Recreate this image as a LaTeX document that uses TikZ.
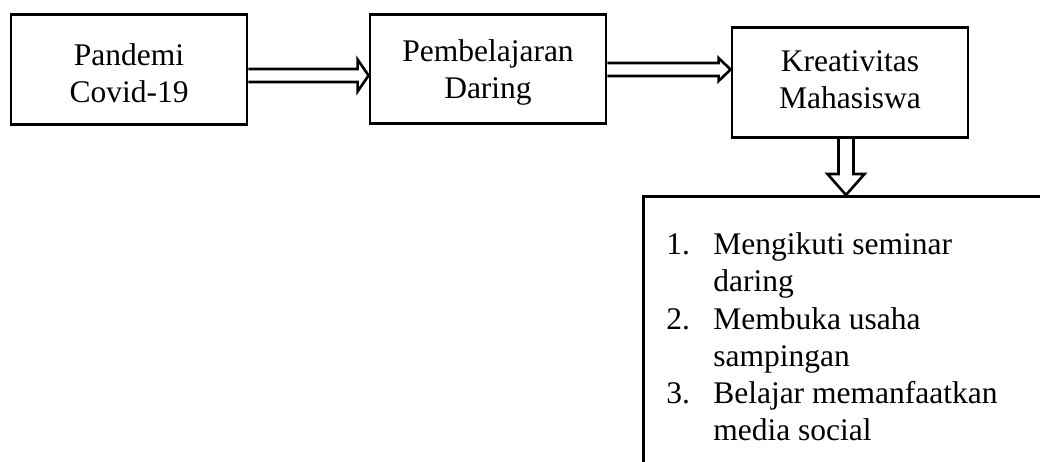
\documentclass[tikz,border=0pt]{standalone}
\usepackage{fontspec}
\setmainfont{Liberation Serif}
\usetikzlibrary{calc}

% two centred lines, with a strut of height #1 and depth #2 on each
\newcommand{\twoline}[4]{\rule[-#2]{0pt}{#1}#3\\\rule[-#2]{0pt}{#1}#4}

\tikzset{
  box/.style={draw, line width=1pt, minimum width=90pt, minimum height=41.7pt,
    align=center, inner sep=0pt, font=\fontsize{12}{14.1}\selectfont},
  hollow right/.style n args={3}{to path={
    ($(\tikztostart)+(0,-#1)$) -- ($(\tikztotarget)+(-#3,-#1)$)
    -- ($(\tikztotarget)+(-#3,-#2)$) -- (\tikztotarget)
    -- ($(\tikztotarget)+(-#3,#2)$) -- ($(\tikztotarget)+(-#3,#1)$)
    -- ($(\tikztostart)+(0,#1)$)}},
  hollow down/.style n args={3}{to path={
    ($(\tikztostart)+(-#1,0)$) -- ($(\tikztotarget)+(-#1,-#3)$)
    -- ($(\tikztotarget)+(-#2,-#3)$) -- (\tikztotarget)
    -- ($(\tikztotarget)+(#2,-#3)$) -- ($(\tikztotarget)+(#1,-#3)$)
    -- ($(\tikztostart)+(#1,0)$)}}
}

\begin{document}
\begin{tikzpicture}[x=0.381pt, y=-0.381pt, line width=1pt]
    \useasboundingbox (0,0) rectangle (1040,462);
    \clip (0,0) rectangle (1040,462);

    % three boxes in a row
    \node[box] (covid) at (129,69.5) {\twoline{12.95pt}{0.76pt}{Pandemi}{Covid-19}};
    \node[box] (online) at (488,69) {\twoline{12.2pt}{1.14pt}{Pembelajaran}{Daring}};
    \node[box] (kreativ) at (850,82.5) {\twoline{11.4pt}{2.7pt}{Kreativitas}{Mahasiswa}};

    % list box, cut off at the page edge
    \node[draw, anchor=north west, inner sep=0pt, minimum width=180pt, minimum height=120pt] (ideas) at (642,195) {};
    \node[anchor=base west, inner sep=0pt, font=\fontsize{12}{14.1}\selectfont] (items) at (665,255) {%
      \begin{tabular}[t]{@{}p{17.9pt}@{}l@{}}
        1. & Mengikuti seminar\\
           & daring\\
        2. & Membuka usaha\\
           & sampingan\\
        3. & Belajar memanfaatkan\\
           & media social
      \end{tabular}};

    % hollow arrows
    \coordinate (a1s) at ($(covid.east)+(0,6)$);
    \coordinate (a1e) at ($(online.west)+(0,6.5)$);
    \coordinate (a2s) at ($(online.east)+(0,0.5)$);
    \coordinate (a2e) at ($(kreativ.west)+(0,-13)$);
    \coordinate (a3s) at ($(kreativ.south)+(-4,0)$);
    \coordinate (a3e) at ($(kreativ.south |- ideas.north)+(-4,0)$);
    \draw (a1s) to[hollow right={6.5}{16}{11}] (a1e);
    \draw (a2s) to[hollow right={6.5}{11.5}{12}] (a2e);
    \draw (a3s) to[hollow down={7.5}{18.5}{21}] (a3e);
\end{tikzpicture}
\end{document}
